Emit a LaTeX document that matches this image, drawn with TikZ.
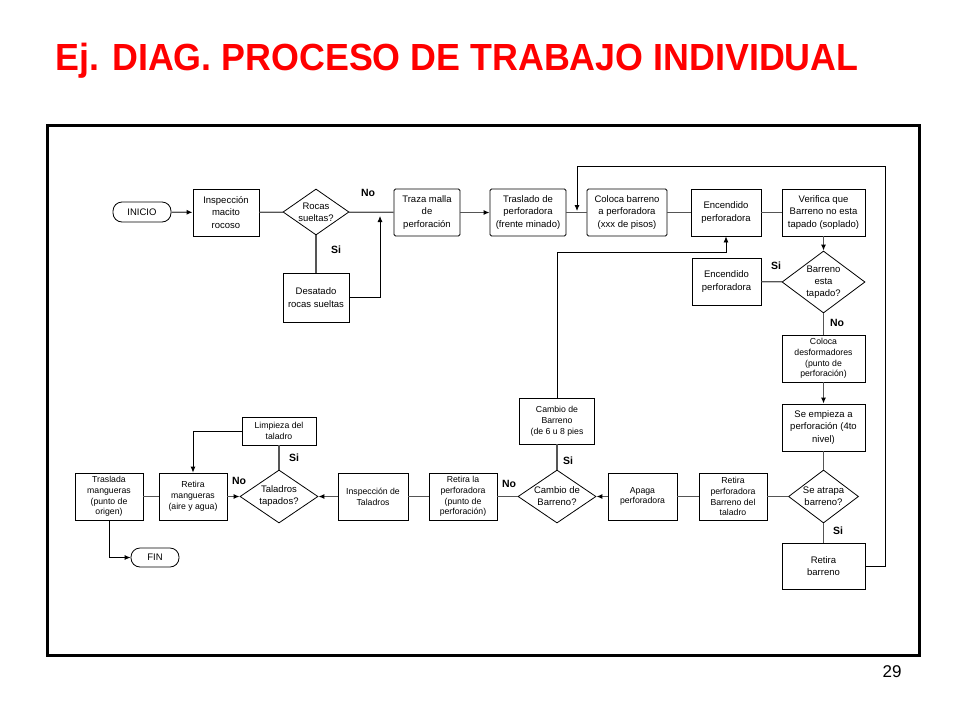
\documentclass[tikz,border=0pt]{standalone}
\usepackage{fontspec}
\setmainfont{Liberation Sans}
\usetikzlibrary{shapes.geometric,arrows.meta}
\definecolor{lncol}{HTML}{555555}
\tikzset{
  box/.style={draw=black, line width=0.8pt, rectangle, inner sep=0pt, align=center, fill=white,
              font=\fontsize{9.5}{12.5}\selectfont},
  rbox/.style={box, rounded corners=1.5pt},
  sbox/.style={box, font=\fontsize{8.7}{10.8}\selectfont},
  dia/.style={draw=black, line width=0.8pt, diamond, inner sep=0pt, fill=white},
  diatxt/.style={inner sep=0pt, align=center, font=\fontsize{9.5}{12}\selectfont},
  term/.style={draw=black, line width=0.8pt, rectangle, rounded corners=9pt, inner sep=0pt,
               font=\fontsize{9.5}{11}\selectfont},
  ln/.style={draw=lncol, line width=1.3pt},
  thinln/.style={draw=black, line width=0.8pt},
  arr/.style={ln, -{Latex[length=6pt,width=5pt,color=black]}},
  thinarr/.style={thinln, -{Latex[length=6pt,width=5pt]}},
  lbl/.style={font=\fontsize{10.5}{11}\bfseries\selectfont, inner sep=0pt},
}
\begin{document}
\begin{tikzpicture}[x=1pt,y=-1pt]
\useasboundingbox (0,0) rectangle (960,720);
% title
\node[anchor=base west, text=red, inner sep=0pt, font=\fontsize{36}{36}\bfseries\selectfont] (title) at (55,70) {\scalebox{0.995}[1.05]{Ej. DIAG. PROCESO DE TRABAJO INDIVIDUAL}};
\node[font=\fontsize{17}{17}\selectfont, inner sep=0pt] (page) at (892,672) {29};
% frame
\draw[line width=3pt] (47,125) rectangle (919,655);

% top row
\node[term, minimum width=58pt, minimum height=20pt] (ini) at (142,212) {INICIO};
\node[box, minimum width=66pt, minimum height=47pt] (insp) at (226,212.5) {Inspección\\macito\\rocoso};
\node[dia, minimum width=66pt, minimum height=46pt] (d1) at (316,212) {};
\node[diatxt] (d1t) at (316,212) {Rocas\\sueltas?};
\node[box, minimum width=66pt, minimum height=49pt] (desat) at (316,297.5) {Desatado\\rocas sueltas};
\node[rbox, minimum width=66pt, minimum height=47pt] (traza) at (427,212.5) {Traza malla\\de\\perforación};
\node[rbox, minimum width=76pt, minimum height=47pt] (tras) at (528,212.5) {Traslado de\\perforadora\\(frente minado)};
\node[rbox, minimum width=80pt, minimum height=47pt] (coloca) at (627,212.5) {Coloca barreno\\a perforadora\\(xxx de pisos)};
\node[box, minimum width=70pt, minimum height=47pt] (enc1) at (726,212.5) {Encendido\\perforadora};
\node[box, minimum width=83pt, minimum height=47pt] (verif) at (823.5,212.5) {Verifica que\\Barreno no esta\\tapado (soplado)};

% right column
\node[dia, minimum width=83pt, minimum height=62pt] (d2) at (823.5,282) {};
\node[diatxt] (d2t) at (823.5,282) {Barreno\\esta\\tapado?};
\node[box, minimum width=69pt, minimum height=47pt] (enc2) at (726.5,281.5) {Encendido\\perforadora};
\node[sbox, minimum width=83pt, minimum height=47pt] (desf) at (823.5,358.5) {Coloca\\desformadores\\(punto de\\perforación)};
\node[box, minimum width=83pt, minimum height=47pt] (emp) at (823.5,427.5) {Se empieza a\\perforación (4to\\nivel)};
\node[dia, minimum width=70pt, minimum height=53pt] (d3) at (823.5,496.5) {};
\node[diatxt] (d3t) at (823.5,496.5) {Se atrapa\\barreno?};
\node[box, minimum width=83pt, minimum height=46pt] (retb) at (823.5,566) {Retira\\barreno};

% bottom row
\node[sbox, minimum width=68pt, minimum height=47pt] (retp) at (733,496.5) {Retira\\perforadora\\Barreno del\\taladro};
\node[sbox, minimum width=69pt, minimum height=47pt] (apaga) at (642.5,496.5) {Apaga\\perforadora};
\node[dia, minimum width=78pt, minimum height=53pt] (d4) at (557,496.5) {};
\node[diatxt] (d4t) at (557,496.5) {Cambio de\\Barreno?};
\node[sbox, minimum width=75pt, minimum height=46pt] (camb) at (557,421) {Cambio de\\Barreno\\(de 6 u 8 pies};
\node[sbox, minimum width=68pt, minimum height=47pt] (retla) at (463,496.5) {Retira la\\perforadora\\(punto de\\perforación)};
\node[sbox, minimum width=70pt, minimum height=47pt] (inspt) at (373,496.5) {Inspección de\\Taladros};
\node[dia, minimum width=78pt, minimum height=53pt] (d5) at (279,496.5) {};
\node[diatxt] (d5t) at (279,496.5) {Taladros\\tapados?};
\node[sbox, minimum width=74pt, minimum height=28pt] (limp) at (279,431) {Limpieza del\\taladro};
\node[sbox, minimum width=68pt, minimum height=47pt] (retm) at (193,496.5) {Retira\\mangueras\\(aire y agua)};
\node[sbox, minimum width=68pt, minimum height=47pt] (trasm) at (109,496.5) {Traslada\\mangueras\\(punto de\\origen)};
\node[term, minimum width=48pt, minimum height=19pt] (fin) at (155,557.5) {FIN};

% helper coordinates
\coordinate (j1) at (380,216);
\coordinate (c1) at (885,166);
\coordinate (j2) at (577,211);
\coordinate (c2) at (557,252);
\coordinate (c3) at (193,431);

% connectors
\draw[arr] (ini) -- (insp);
\draw[ln] (insp) -- (d1);
\draw[ln] (d1) -- (traza);
\draw[ln] (d1) -- (desat);
\draw[thinarr] (desat.east) -| (j1);
\draw[arr] (traza) -- (tras);
\draw[ln] (tras) -- (coloca);
\draw[ln] (coloca) -- (enc1);
\draw[ln] (enc1) -- (verif);
\draw[arr] (verif) -- (d2);
\draw[ln] (d2) -- (enc2);
\draw[ln] (d2) -- (desf);
\draw[arr] (desf) -- (emp);
\draw[ln] (emp) -- (d3);
\draw[ln] (d3) -- (retb);
\draw[thinarr] (retb.east) -| (c1) -| (j2);
\draw[ln] (d3) -- (retp);
\draw[ln] (retp) -- (apaga);
\draw[arr] (apaga) -- (d4);
\draw[ln] (d4) -- (camb);
\draw[thinarr] (camb.north) -- (c2) -| (enc1.south);
\draw[ln] (d4) -- (retla);
\draw[ln] (retla) -- (inspt);
\draw[arr] (inspt) -- (d5);
\draw[ln] (d5) -- (limp);
\draw[thinarr] (limp.west) -- (c3) -- (retm.north);
\draw[arr] (retm) -- (d5);
\draw[ln] (trasm) -- (retm);
\draw[thinarr] (trasm.south) |- (fin.west);

% labels
\node[lbl] (l1) at (368,193) {No};
\node[lbl] (l2) at (336,250) {Si};
\node[lbl] (l3) at (776,266) {Si};
\node[lbl] (l4) at (837,323) {No};
\node[lbl] (l5) at (838,531) {Si};
\node[lbl] (l6) at (568,461) {Si};
\node[lbl] (l7) at (509,484) {No};
\node[lbl] (l8) at (294,458) {Si};
\node[lbl] (l9) at (239,481) {No};
\end{tikzpicture}
\end{document}
